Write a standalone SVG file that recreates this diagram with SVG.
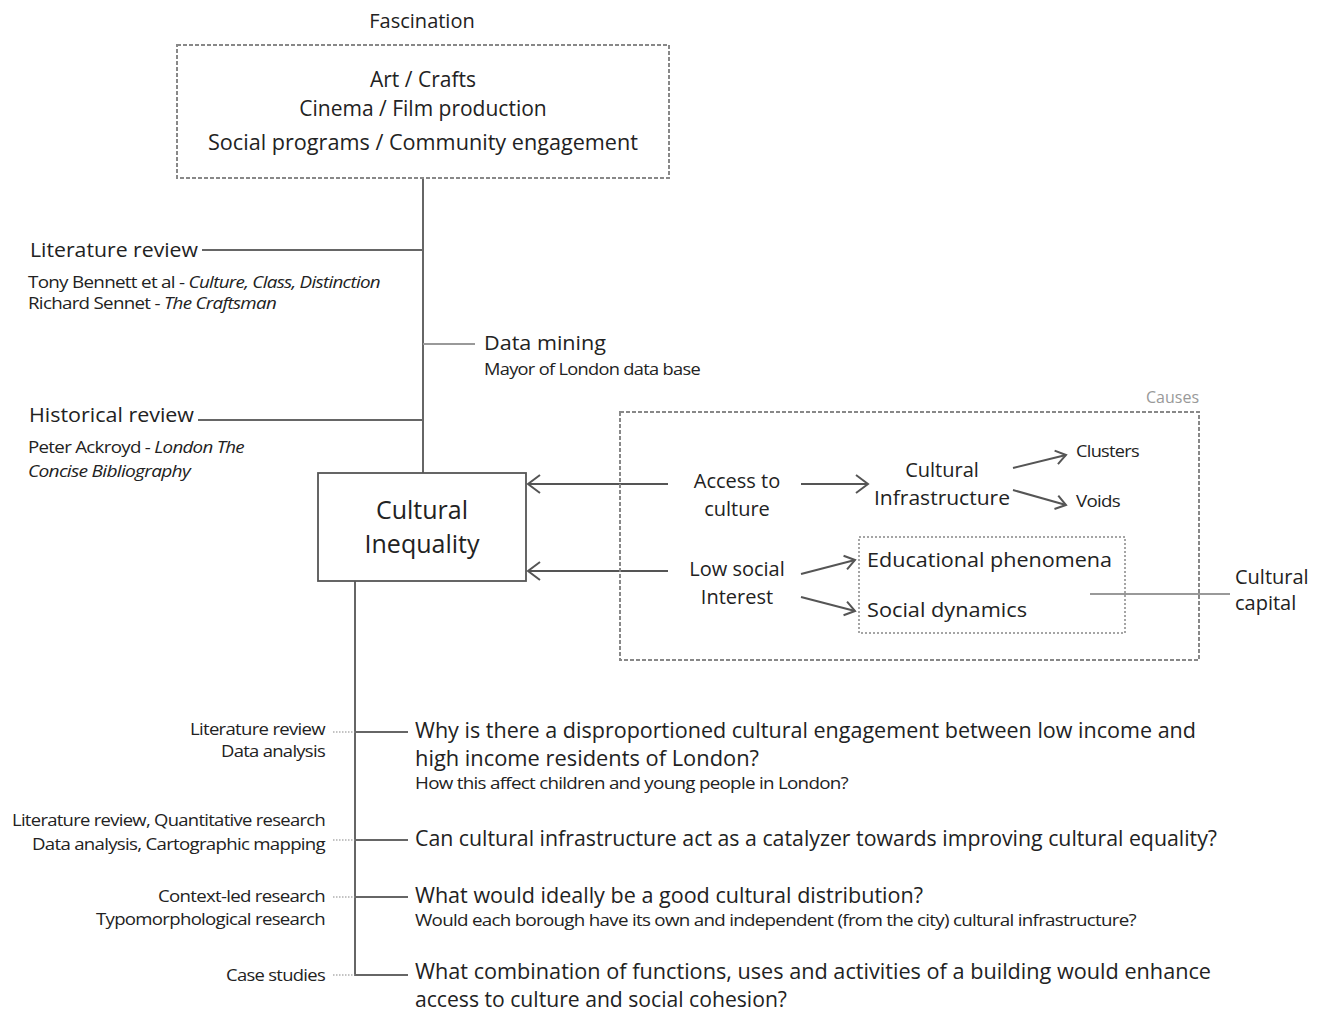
<svg xmlns="http://www.w3.org/2000/svg" width="1320" height="1014" viewBox="0 0 1320 1014">
<defs>
<marker id="arr" markerUnits="userSpaceOnUse" markerWidth="16" markerHeight="22" viewBox="0 0 16 22" refX="14" refY="11" orient="auto">
<path d="M2,2 L14,11 L2,20" fill="none" stroke="#555" stroke-width="2"/>
</marker>
<marker id="arrs" markerUnits="userSpaceOnUse" markerWidth="14" markerHeight="18" viewBox="0 0 14 18" refX="12" refY="9" orient="auto">
<path d="M2,2 L12,9 L2,16" fill="none" stroke="#555" stroke-width="2"/>
</marker>
</defs>
<style>
text{font-family:"Open Sans","Liberation Sans",sans-serif;fill:#222}
.t20{font-size:20px}
.t21{font-size:21px}
.t24{font-size:25px}
.t16{font-size:16px;letter-spacing:-0.6px}
.mid{text-anchor:middle}
.end{text-anchor:end}
.ln{stroke:#666;stroke-width:2;fill:none}
.lt{stroke:#999;stroke-width:2;fill:none}
.dot{stroke:#888;stroke-width:1.2;stroke-dasharray:1.5,1.5;fill:none}
.dash{stroke:#888;stroke-width:2;stroke-dasharray:4,2;fill:none}
.dash2{stroke:#888;stroke-width:1.5;stroke-dasharray:2,2;fill:none}
.ar{stroke:#555;stroke-width:2;fill:none}
</style>
<rect width="1320" height="1014" fill="#fff"/>

<g id="connectors">
<line class="ln" x1="423" y1="178" x2="423" y2="473"/>
<line class="ln" x1="202" y1="250" x2="423" y2="250"/>
<line class="lt" x1="423" y1="344" x2="475" y2="344"/>
<line class="ln" x1="198" y1="420" x2="423" y2="420"/>
<line class="ar" x1="668" y1="484" x2="528" y2="484" marker-end="url(#arr)"/>
<line class="ar" x1="668" y1="571" x2="528" y2="571" marker-end="url(#arr)"/>
<line class="ar" x1="801" y1="484" x2="868" y2="484" marker-end="url(#arr)"/>
<line class="ar" x1="1013" y1="468" x2="1066" y2="455" marker-end="url(#arrs)"/>
<line class="ar" x1="1013" y1="490" x2="1066" y2="505" marker-end="url(#arrs)"/>
<line class="ar" x1="801" y1="574" x2="855" y2="560" marker-end="url(#arrs)"/>
<line class="ar" x1="801" y1="597" x2="855" y2="611" marker-end="url(#arrs)"/>
<line class="lt" x1="1090" y1="594" x2="1230" y2="594"/>
<line class="ln" x1="355" y1="581" x2="355" y2="976"/>
<line class="ln" x1="355" y1="732" x2="408" y2="732"/>
<line class="dot" x1="333" y1="732" x2="355" y2="732"/>
<line class="ln" x1="355" y1="840" x2="408" y2="840"/>
<line class="dot" x1="333" y1="840" x2="355" y2="840"/>
<line class="ln" x1="355" y1="897" x2="408" y2="897"/>
<line class="dot" x1="333" y1="897" x2="355" y2="897"/>
<line class="ln" x1="355" y1="975" x2="408" y2="975"/>
<line class="dot" x1="333" y1="975" x2="355" y2="975"/>
</g>

<g id="fascination">
<text class="t20 mid" x="422" y="28">Fascination</text>
<rect class="dash" x="177" y="45" width="492" height="133"/>
<text class="t21 mid" x="423" y="87">Art / Crafts</text>
<text class="t21 mid" x="423" y="116">Cinema / Film production</text>
<text class="t21 mid" x="423" y="150" textLength="430" lengthAdjust="spacingAndGlyphs">Social programs / Community engagement</text>
</g>

<g id="literature-review">
<text class="t20" x="30" y="257" textLength="168" lengthAdjust="spacingAndGlyphs">Literature review</text>
<text class="t16" x="28" y="288" textLength="352" lengthAdjust="spacingAndGlyphs">Tony Bennett et al - <tspan font-style="italic">Culture, Class, Distinction</tspan></text>
<text class="t16" x="28" y="309" textLength="248" lengthAdjust="spacingAndGlyphs">Richard Sennet - <tspan font-style="italic">The Craftsman</tspan></text>
</g>

<g id="data-mining">
<text class="t20" x="484" y="350" textLength="122" lengthAdjust="spacingAndGlyphs">Data mining</text>
<text class="t16" x="484" y="375" textLength="216" lengthAdjust="spacingAndGlyphs">Mayor of London data base</text>
</g>

<g id="historical-review">
<text class="t20" x="29" y="422" textLength="165" lengthAdjust="spacingAndGlyphs">Historical review</text>
<text class="t16" x="28" y="453" textLength="216" lengthAdjust="spacingAndGlyphs">Peter Ackroyd - <tspan font-style="italic">London The</tspan></text>
<text class="t16" x="28" y="477" textLength="162" lengthAdjust="spacingAndGlyphs" font-style="italic">Concise Bibliography</text>
</g>

<g id="cultural-inequality">
<rect x="318" y="473" width="208" height="108" fill="#fff" stroke="#555" stroke-width="1.8"/>
<text class="t24 mid" x="422" y="519">Cultural</text>
<text class="t24 mid" x="422" y="553">Inequality</text>
</g>

<g id="causes">
<rect class="dash" x="620" y="412" width="579" height="248"/>
<text class="end" x="1199" y="403" style="font-size:16px;fill:#999">Causes</text>
</g>

<g id="access-to-culture">
<text class="t20 mid" x="737" y="488">Access to</text>
<text class="t20 mid" x="737" y="516">culture</text>
</g>

<g id="cultural-infrastructure">
<text class="t20 mid" x="942" y="477">Cultural</text>
<text class="t20 mid" x="942" y="505" textLength="136" lengthAdjust="spacingAndGlyphs">Infrastructure</text>
</g>

<g id="clusters"><text class="t16" x="1076" y="457" textLength="63" lengthAdjust="spacingAndGlyphs">Clusters</text></g>
<g id="voids"><text class="t16" x="1076" y="507" textLength="44" lengthAdjust="spacingAndGlyphs">Voids</text></g>

<g id="low-social-interest">
<text class="t20 mid" x="737" y="576">Low social</text>
<text class="t20 mid" x="737" y="604">Interest</text>
</g>

<g id="cultural-capital-box">
<rect class="dash2" x="859" y="537" width="266" height="96"/>
<text class="t20" x="867" y="567" textLength="245" lengthAdjust="spacingAndGlyphs">Educational phenomena</text>
<text class="t20" x="867" y="617" textLength="160" lengthAdjust="spacingAndGlyphs">Social dynamics</text>
</g>

<g id="cultural-capital">
<text class="t20" x="1235" y="584">Cultural</text>
<text class="t20" x="1235" y="610">capital</text>
</g>

<g id="methods-1">
<text class="t16 end" x="325" y="735" textLength="135" lengthAdjust="spacingAndGlyphs">Literature review</text>
<text class="t16 end" x="325" y="757" textLength="104" lengthAdjust="spacingAndGlyphs">Data analysis</text>
</g>
<g id="question-1">
<text class="t21" x="415" y="738" textLength="781" lengthAdjust="spacingAndGlyphs">Why is there a disproportioned cultural engagement between low income and</text>
<text class="t21" x="415" y="766" textLength="344" lengthAdjust="spacingAndGlyphs">high income residents of London?</text>
<text class="t16" x="415" y="789" textLength="433" lengthAdjust="spacingAndGlyphs">How this affect children and young people in London?</text>
</g>

<g id="methods-2">
<text class="t16 end" x="325" y="826" textLength="313" lengthAdjust="spacingAndGlyphs">Literature review, Quantitative research</text>
<text class="t16 end" x="325" y="850" textLength="293" lengthAdjust="spacingAndGlyphs">Data analysis, Cartographic mapping</text>
</g>
<g id="question-2">
<text class="t21" x="415" y="846" textLength="802" lengthAdjust="spacingAndGlyphs">Can cultural infrastructure act as a catalyzer towards improving cultural equality?</text>
</g>

<g id="methods-3">
<text class="t16 end" x="325" y="902" textLength="167" lengthAdjust="spacingAndGlyphs">Context-led research</text>
<text class="t16 end" x="325" y="925" textLength="229" lengthAdjust="spacingAndGlyphs">Typomorphological research</text>
</g>
<g id="question-3">
<text class="t21" x="415" y="903" textLength="508" lengthAdjust="spacingAndGlyphs">What would ideally be a good cultural distribution?</text>
<text class="t16" x="415" y="926" textLength="721" lengthAdjust="spacingAndGlyphs">Would each borough have its own and  independent (from the city) cultural infrastructure?</text>
</g>

<g id="methods-4">
<text class="t16 end" x="325" y="981" textLength="99" lengthAdjust="spacingAndGlyphs">Case studies</text>
</g>
<g id="question-4">
<text class="t21" x="415" y="979" textLength="796" lengthAdjust="spacingAndGlyphs">What combination  of functions, uses and activities of a building would enhance</text>
<text class="t21" x="415" y="1007" textLength="372" lengthAdjust="spacingAndGlyphs">access to culture and social cohesion?</text>
</g>
</svg>
